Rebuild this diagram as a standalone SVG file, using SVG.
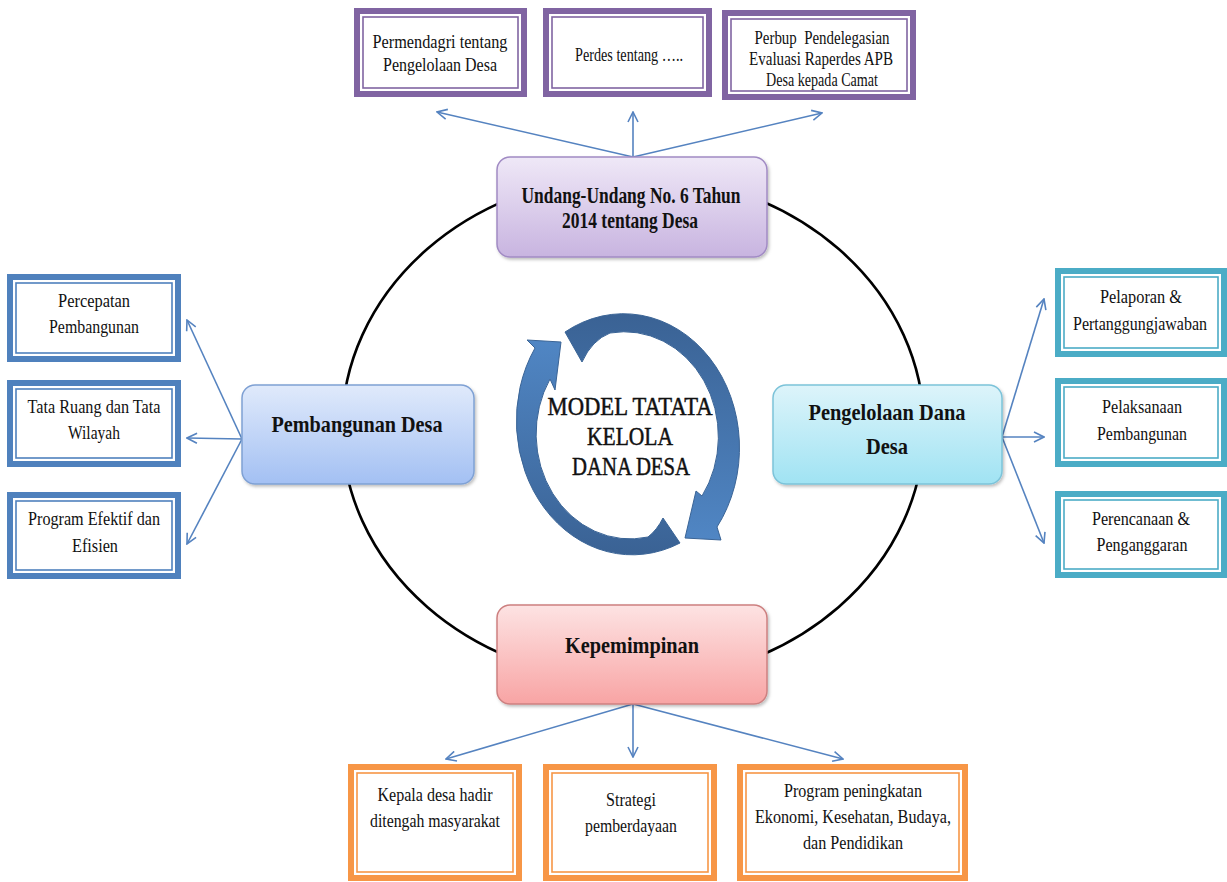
<svg xmlns="http://www.w3.org/2000/svg" width="1227" height="882" viewBox="0 0 1227 882">
<defs>
<style>
.t{font-family:"Liberation Serif","Times New Roman",serif;font-size:19px;fill:#111;text-anchor:middle}
.h{font-family:"Liberation Serif","Times New Roman",serif;font-size:24px;font-weight:bold;fill:#111;text-anchor:middle}
.c{font-family:"Liberation Serif","Times New Roman",serif;font-size:26px;fill:#111;stroke:#111;stroke-width:0.5;text-anchor:middle}
.ob{fill:#fff;stroke-width:6}
.ib{fill:none;stroke-width:1.6}
.pu{stroke:#8064A2}.bl{stroke:#4F81BD}.te{stroke:#4BACC6}.or{stroke:#F79646}
.con{stroke:#5583c0;stroke-width:1.6;fill:none;marker-end:url(#ah)}
</style>
<marker id="ah" viewBox="0 0 12 12" refX="11" refY="6" markerWidth="12" markerHeight="12" markerUnits="userSpaceOnUse" orient="auto">
<path d="M1,1 L11,6 L1,11" fill="none" stroke="#5583c0" stroke-width="1.6"/>
</marker>
<linearGradient id="gPu" x1="0" y1="0" x2="0" y2="1"><stop offset="0" stop-color="#efe8f7"/><stop offset="1" stop-color="#c8b4e0"/></linearGradient>
<linearGradient id="gBl" x1="0" y1="0" x2="0" y2="1"><stop offset="0" stop-color="#e0eafb"/><stop offset="1" stop-color="#a3c0f3"/></linearGradient>
<linearGradient id="gCy" x1="0" y1="0" x2="0" y2="1"><stop offset="0" stop-color="#ddf4fa"/><stop offset="1" stop-color="#a0e3f3"/></linearGradient>
<linearGradient id="gRd" x1="0" y1="0" x2="0" y2="1"><stop offset="0" stop-color="#fde3e3"/><stop offset="1" stop-color="#f8a4a4"/></linearGradient>
<linearGradient id="gA" x1="0" y1="0" x2="0" y2="1"><stop offset="0" stop-color="#3a6294"/><stop offset="1" stop-color="#5086c4"/></linearGradient>
<linearGradient id="gB" x1="0" y1="0" x2="0" y2="1"><stop offset="0" stop-color="#5086c4"/><stop offset="1" stop-color="#3a6294"/></linearGradient>
<filter id="sh" x="-10%" y="-10%" width="130%" height="130%"><feDropShadow dx="1.5" dy="2" stdDeviation="1.5" flood-color="#000" flood-opacity="0.25"/></filter>
</defs>
<rect width="1227" height="882" fill="#fff"/>

<ellipse id="ring" cx="633" cy="428" rx="291" ry="253" fill="none" stroke="#000" stroke-width="2.6"/>

<g id="connectors">
<line class="con" x1="633" y1="157" x2="437" y2="112"/>
<line class="con" x1="633" y1="157" x2="633" y2="112"/>
<line class="con" x1="633" y1="157" x2="822" y2="113"/>
<line class="con" x1="242" y1="439" x2="187" y2="320"/>
<line class="con" x1="242" y1="439" x2="187" y2="438"/>
<line class="con" x1="242" y1="439" x2="187" y2="544"/>
<line class="con" x1="1002" y1="437" x2="1044" y2="299"/>
<line class="con" x1="1002" y1="437" x2="1044" y2="437"/>
<line class="con" x1="1002" y1="437" x2="1044" y2="543"/>
<line class="con" x1="633" y1="704" x2="446" y2="759"/>
<line class="con" x1="633" y1="704" x2="633" y2="757"/>
<line class="con" x1="633" y1="704" x2="843" y2="759"/>
</g>

<g id="cycle">
<path d="M565,332 A116,134 0 0 1 717,527 L721,540 L685,538 L696,491 L702,496 A94,105 0 0 0 610,333 Q592,340 582,362 Z" fill="url(#gA)" stroke="#3a6496" stroke-width="1"/>
<path d="M680,543 A116,134 0 0 1 535,348 L527,340 L561,342 L555,390 L550,379 A94,105 0 0 0 648,537 Q657,530 663,518 Z" fill="url(#gB)" stroke="#3a6496" stroke-width="1"/>
<text class="c" x="630" y="415" textLength="165" lengthAdjust="spacingAndGlyphs">MODEL TATATA</text>
<text class="c" x="630" y="445" textLength="86" lengthAdjust="spacingAndGlyphs">KELOLA</text>
<text class="c" x="631" y="475" textLength="118" lengthAdjust="spacingAndGlyphs">DANA DESA</text>
</g>

<g id="uu">
<rect x="497" y="157" width="270" height="100" rx="13" fill="url(#gPu)" stroke="#a18bc4" stroke-width="1.5" filter="url(#sh)"/>
<text class="h" x="631" y="203" font-size="23" textLength="219" lengthAdjust="spacingAndGlyphs">Undang-Undang No. 6 Tahun</text>
<text class="h" x="630" y="228" font-size="23" textLength="136" lengthAdjust="spacingAndGlyphs">2014 tentang Desa</text>
</g>
<g id="pembangunan">
<rect x="242" y="385" width="232" height="99" rx="13" fill="url(#gBl)" stroke="#7fa1d4" stroke-width="1.5" filter="url(#sh)"/>
<text class="h" x="357" y="432" textLength="171" lengthAdjust="spacingAndGlyphs">Pembangunan Desa</text>
</g>
<g id="pengelolaan">
<rect x="773" y="385" width="229" height="99" rx="13" fill="url(#gCy)" stroke="#7cc3d9" stroke-width="1.5" filter="url(#sh)"/>
<text class="h" x="887" y="420" textLength="157" lengthAdjust="spacingAndGlyphs">Pengelolaan Dana</text>
<text class="h" x="887" y="454" textLength="42" lengthAdjust="spacingAndGlyphs">Desa</text>
</g>
<g id="kepemimpinan">
<rect x="497" y="605" width="270" height="99" rx="13" fill="url(#gRd)" stroke="#cd8080" stroke-width="1.5" filter="url(#sh)"/>
<text class="h" x="632" y="653" textLength="134" lengthAdjust="spacingAndGlyphs">Kepemimpinan</text>
</g>

<g id="top1">
<rect class="ob pu" x="357" y="11" width="167" height="83"/><rect class="ib pu" x="363" y="17" width="155" height="71"/>
<text class="t" x="440" y="48" textLength="135" lengthAdjust="spacingAndGlyphs">Permendagri tentang</text>
<text class="t" x="440" y="71" textLength="114" lengthAdjust="spacingAndGlyphs">Pengelolaan Desa</text>
</g>
<g id="top2">
<rect class="ob pu" x="546" y="11" width="163" height="83"/><rect class="ib pu" x="552" y="17" width="151" height="71"/>
<text class="t" x="629" y="61" textLength="108" lengthAdjust="spacingAndGlyphs">Perdes tentang …..</text>
</g>
<g id="top3">
<rect class="ob pu" x="725" y="13" width="188" height="84"/><rect class="ib pu" x="731" y="19" width="176" height="72"/>
<text class="t" x="822" y="44" textLength="135" lengthAdjust="spacingAndGlyphs" style="white-space:pre">Perbup  Pendelegasian</text>
<text class="t" x="821" y="65" textLength="144" lengthAdjust="spacingAndGlyphs">Evaluasi Raperdes APB</text>
<text class="t" x="822" y="86" textLength="112" lengthAdjust="spacingAndGlyphs">Desa kepada Camat</text>
</g>

<g id="left1">
<rect class="ob bl" x="10" y="277" width="168" height="82"/><rect class="ib bl" x="16" y="283" width="156" height="70"/>
<text class="t" x="94" y="307" textLength="72" lengthAdjust="spacingAndGlyphs">Percepatan</text>
<text class="t" x="94" y="333" textLength="90" lengthAdjust="spacingAndGlyphs">Pembangunan</text>
</g>
<g id="left2">
<rect class="ob bl" x="10" y="383" width="168" height="81"/><rect class="ib bl" x="16" y="389" width="156" height="69"/>
<text class="t" x="94" y="413" textLength="133" lengthAdjust="spacingAndGlyphs">Tata Ruang dan Tata</text>
<text class="t" x="94" y="439" textLength="52" lengthAdjust="spacingAndGlyphs">Wilayah</text>
</g>
<g id="left3">
<rect class="ob bl" x="10" y="495" width="168" height="81"/><rect class="ib bl" x="16" y="501" width="156" height="69"/>
<text class="t" x="94" y="525" textLength="132" lengthAdjust="spacingAndGlyphs">Program Efektif dan</text>
<text class="t" x="95" y="552" textLength="46" lengthAdjust="spacingAndGlyphs">Efisien</text>
</g>

<g id="right1">
<rect class="ob te" x="1058" y="271" width="166" height="83"/><rect class="ib te" x="1064" y="277" width="154" height="71"/>
<text class="t" x="1141" y="303" textLength="82" lengthAdjust="spacingAndGlyphs">Pelaporan &amp;</text>
<text class="t" x="1140" y="330" font-size="16" textLength="134" lengthAdjust="spacingAndGlyphs">Pertanggungjawaban</text>
</g>
<g id="right2">
<rect class="ob te" x="1058" y="381" width="166" height="83"/><rect class="ib te" x="1064" y="387" width="154" height="71"/>
<text class="t" x="1142" y="413" textLength="80" lengthAdjust="spacingAndGlyphs">Pelaksanaan</text>
<text class="t" x="1142" y="440" textLength="90" lengthAdjust="spacingAndGlyphs">Pembangunan</text>
</g>
<g id="right3">
<rect class="ob te" x="1058" y="494" width="166" height="81"/><rect class="ib te" x="1064" y="500" width="154" height="69"/>
<text class="t" x="1141" y="525" textLength="98" lengthAdjust="spacingAndGlyphs">Perencanaan &amp;</text>
<text class="t" x="1142" y="551" textLength="91" lengthAdjust="spacingAndGlyphs">Penganggaran</text>
</g>

<g id="bottom1">
<rect class="ob or" x="351" y="767" width="168" height="111"/><rect class="ib or" x="357" y="773" width="156" height="99"/>
<text class="t" x="435" y="801" textLength="115" lengthAdjust="spacingAndGlyphs">Kepala desa hadir</text>
<text class="t" x="435" y="827" textLength="130" lengthAdjust="spacingAndGlyphs">ditengah masyarakat</text>
</g>
<g id="bottom2">
<rect class="ob or" x="546" y="767" width="168" height="111"/><rect class="ib or" x="552" y="773" width="156" height="99"/>
<text class="t" x="631" y="806" textLength="50" lengthAdjust="spacingAndGlyphs">Strategi</text>
<text class="t" x="631" y="832" textLength="92" lengthAdjust="spacingAndGlyphs">pemberdayaan</text>
</g>
<g id="bottom3">
<rect class="ob or" x="740" y="767" width="225" height="111"/><rect class="ib or" x="746" y="773" width="213" height="99"/>
<text class="t" x="853" y="797" textLength="138" lengthAdjust="spacingAndGlyphs">Program peningkatan</text>
<text class="t" x="853" y="823" textLength="196" lengthAdjust="spacingAndGlyphs">Ekonomi, Kesehatan, Budaya,</text>
<text class="t" x="853" y="849" textLength="100" lengthAdjust="spacingAndGlyphs">dan Pendidikan</text>
</g>
</svg>
